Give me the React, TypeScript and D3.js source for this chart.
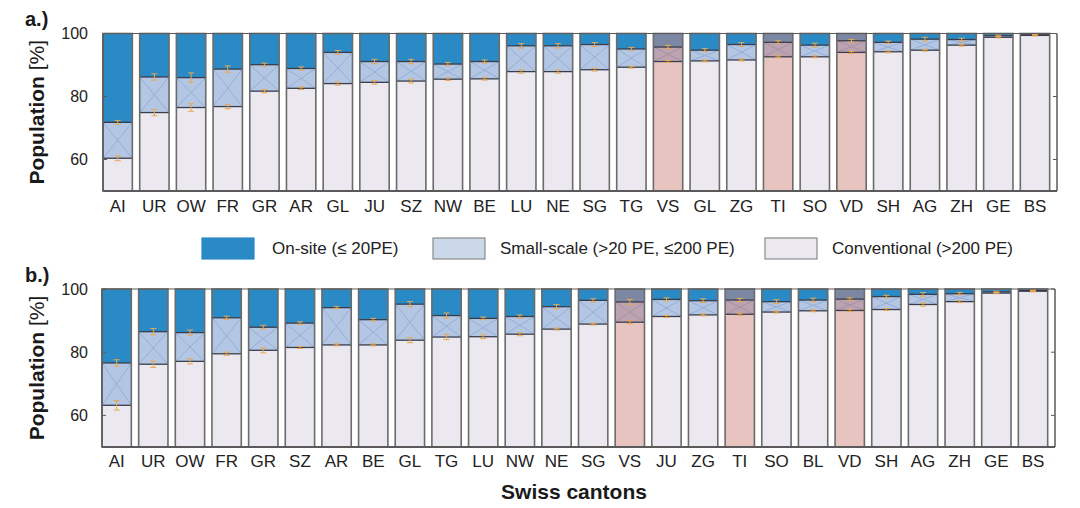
import React from "react";
import * as d3 from "d3";

// ---------- DATA ----------
const cantonsA = ["AI","UR","OW","FR","GR","AR","GL","JU","SZ","NW","BE","LU","NE","SG","TG","VS","GL","ZG","TI","SO","VD","SH","AG","ZH","GE","BS"];
const conventionalA = [60.4,74.9,76.5,76.8,81.7,82.6,84.1,84.5,84.9,85.5,85.6,87.9,87.9,88.5,89.3,91.1,91.3,91.6,92.6,92.6,94.0,94.2,94.7,96.3,98.8,99.4];
const smallScaleA = [11.4,11.3,9.5,11.9,8.4,6.3,9.9,6.6,6.2,4.8,5.5,8.2,8.2,8.0,5.8,4.6,3.4,4.9,4.6,3.7,3.7,3.0,3.5,1.8,0.5,0.3];
const errConvA = [0.8,1.0,1.2,0.7,0.5,0.4,0.5,0.6,0.6,0.4,0.4,0.5,0.5,0.4,0.3,0.3,0.3,0.3,0.3,0.3,0.3,0.3,0.3,0.3,0.2,0.2];
const errSmallA = [0.6,1.0,1.5,1.0,0.5,0.5,0.6,0.7,0.7,0.5,0.5,0.7,0.7,0.6,0.5,0.5,0.5,0.6,0.5,0.6,0.4,0.4,0.6,0.4,0.2,0.2];

const cantonsB = ["AI","UR","OW","FR","GR","SZ","AR","BE","GL","TG","LU","NW","NE","SG","VS","JU","ZG","TI","SO","BL","VD","SH","AG","ZH","GE","BS"];
const conventionalB = [63.2,76.2,77.1,79.5,80.6,81.5,82.3,82.3,83.8,84.8,84.9,85.7,87.3,88.9,89.5,91.3,91.8,92.0,92.7,93.1,93.2,93.5,95.1,96.0,98.7,99.3];
const smallScaleB = [13.4,10.3,9.1,11.4,7.3,7.7,11.8,8.0,11.4,6.8,5.8,5.6,7.1,7.5,6.4,5.4,4.5,4.5,3.3,3.4,3.6,4.1,3.2,2.5,0.4,0.2];
const errConvB = [1.5,1.0,0.8,0.5,0.8,0.3,0.3,0.3,0.8,0.8,0.6,0.5,0.3,0.3,0.5,0.3,0.3,0.3,0.3,0.3,0.3,0.3,0.5,0.3,0.2,0.2];
const errSmallB = [1.0,1.0,0.8,0.5,0.6,0.4,0.3,0.4,0.8,0.8,0.4,0.5,0.7,0.5,0.8,0.5,0.6,0.5,0.6,0.6,0.4,0.4,0.6,0.4,0.2,0.2];

const highlighted = ["VS","TI","VD"];
const yTicks = [60, 80, 100];
const legendLabels = ["On-site (\u2264 20PE)", "Small-scale (>20 PE, \u2264200 PE)", "Conventional (>200 PE)"];

// ---------- STYLE ----------
const FONT = "'Liberation Sans', Arial, Helvetica, sans-serif";
const C = {
  onsite: "#2A8AC6",
  small: "#B3C6E4",
  smallHatch: "#93ABD3",
  conv: "#ECE8F0",
  hOnsite: "#7C88A3",
  hSmall: "#BBA3B2",
  hSmallHatch: "#A88F9F",
  hConv: "#E7C4C0",
  boundary: "#3A3D4A",
  outline: "#6B6B6B",
  axis: "#5A5A5A",
  err: "#E9A850",
};

type PanelProps = {
  cats: string[];
  conv: number[];
  small: number[];
  errC: number[];
  errS: number[];
  x0: number; x1: number; yTop: number; yBottom: number;
  tag: string; labelBaseline: number; tagX: number; tagY: number;
};

function Panel(p: PanelProps) {
  const x = d3.scaleBand<number>()
    .domain(d3.range(p.cats.length))
    .range([p.x0, p.x1])
    .paddingInner(0.2)
    .paddingOuter(0.1)
    .align(0);
  const y = d3.scaleLinear().domain([50, 100]).range([p.yBottom, p.yTop]);
  const bw = x.bandwidth();
  const midY = (p.yTop + p.yBottom) / 2;

  return (
    <g>
      {p.cats.map((c, i) => {
        const hl = highlighted.includes(c);
        const bx = x(i)!;
        const convTop = p.conv[i];
        const smallTop = p.conv[i] + p.small[i];
        const yC = y(convTop);
        const yS = y(smallTop);
        const y100 = y(100);
        const yB = y(50);
        const cx = bx + bw / 2;
        return (
          <g key={i}>
            <rect x={bx} y={yC} width={bw} height={yB - yC} fill={hl ? C.hConv : C.conv} />
            <rect x={bx} y={yS} width={bw} height={yC - yS} fill={hl ? C.hSmall : C.small} />
            {yC - yS > 2 && (
              <g stroke={hl ? C.hSmallHatch : C.smallHatch} strokeWidth={0.9}>
                <line x1={bx} y1={yS} x2={bx + bw} y2={yC} />
                <line x1={bx} y1={yC} x2={bx + bw} y2={yS} />
              </g>
            )}
            <rect x={bx} y={y100} width={bw} height={yS - y100} fill={hl ? C.hOnsite : C.onsite} />
            <line x1={bx} x2={bx + bw} y1={yC} y2={yC} stroke={C.boundary} strokeWidth={1.3} />
            <line x1={bx} x2={bx + bw} y1={yS} y2={yS} stroke={C.boundary} strokeWidth={1.3} />
            <rect x={bx} y={y100} width={bw} height={yB - y100} fill="none" stroke={C.outline} strokeWidth={1.6} />
            {[{ v: convTop, e: p.errC[i] }, { v: smallTop, e: p.errS[i] }].map((eb, k) => (
              <g key={k} stroke={C.err} strokeWidth={1}>
                <line x1={cx} x2={cx} y1={y(eb.v - eb.e)} y2={y(Math.min(100, eb.v + eb.e))} />
                <line x1={cx - 3} x2={cx + 3} y1={y(eb.v - eb.e)} y2={y(eb.v - eb.e)} />
                <line x1={cx - 3} x2={cx + 3} y1={y(Math.min(100, eb.v + eb.e))} y2={y(Math.min(100, eb.v + eb.e))} />
              </g>
            ))}
            <text x={cx} y={p.labelBaseline} textAnchor="middle" fontSize={17} fill="#222" fontFamily={FONT}>{c}</text>
          </g>
        );
      })}
      {/* axes box */}
      <line x1={p.x0} x2={p.x0} y1={p.yTop} y2={p.yBottom} stroke={C.axis} strokeWidth={1.5} />
      <line x1={p.x1} x2={p.x1} y1={p.yTop} y2={p.yBottom} stroke={C.axis} strokeWidth={1.5} />
      <line x1={p.x0} x2={p.x1} y1={p.yBottom} y2={p.yBottom} stroke={C.axis} strokeWidth={1.8} />
      <line x1={p.x0} x2={p.x1} y1={p.yTop} y2={p.yTop} stroke={C.axis} strokeWidth={1} />
      {yTicks.map((t) => (
        <g key={t}>
          <line x1={p.x0} x2={p.x0 + 4} y1={y(t)} y2={y(t)} stroke={C.axis} strokeWidth={1} />
          <line x1={p.x1 - 4} x2={p.x1} y1={y(t)} y2={y(t)} stroke={C.axis} strokeWidth={1} />
          <text x={88} y={y(t)} dy="0.35em" textAnchor="end" fontSize={16} fill="#222" fontFamily={FONT}>{t}</text>
        </g>
      ))}
      <text transform={`translate(44,${midY}) rotate(-90)`} textAnchor="middle" fontSize={21} fill="#1a1a1a" fontFamily={FONT}>
        <tspan fontWeight="bold">Population</tspan>
        <tspan> [%]</tspan>
      </text>
      <text x={p.tagX} y={p.tagY} fontSize={20} fontWeight="bold" fill="#1a1a1a" fontFamily={FONT}>{p.tag}</text>
    </g>
  );
}

function Legend() {
  const items = [
    { sx: 202, tx: 272, fill: C.onsite, stroke: C.onsite },
    { sx: 433, tx: 500, fill: "#CBD8EA", stroke: "#8A8A8A" },
    { sx: 765, tx: 832, fill: C.conv, stroke: "#8A8A8A" },
  ];
  return (
    <g>
      {items.map((it, i) => (
        <g key={i}>
          <rect x={it.sx} y={238} width={52} height={21} fill={it.fill} stroke={it.stroke} strokeWidth={1.2} />
          <text x={it.tx} y={254} fontSize={17} fill="#222" fontFamily={FONT}>{legendLabels[i]}</text>
        </g>
      ))}
    </g>
  );
}

export default function App() {
  return (
    <svg width={1080} height={508} style={{ position: "absolute", left: 0, top: 0, background: "#fff" }}>
      <rect width={1080} height={508} fill="#fff" />
      <Panel cats={cantonsA} conv={conventionalA} small={smallScaleA} errC={errConvA} errS={errSmallA}
        x0={103} x1={1057} yTop={33.5} yBottom={191} tag="a.)" labelBaseline={212} tagX={25} tagY={26} />
      <Legend />
      <Panel cats={cantonsB} conv={conventionalB} small={smallScaleB} errC={errConvB} errS={errSmallB}
        x0={102} x1={1055} yTop={289} yBottom={447} tag="b.)" labelBaseline={467} tagX={25} tagY={282} />
      <text x={574} y={499} textAnchor="middle" fontSize={21} fontWeight="bold" fill="#1a1a1a" fontFamily={FONT}>Swiss cantons</text>
    </svg>
  );
}
